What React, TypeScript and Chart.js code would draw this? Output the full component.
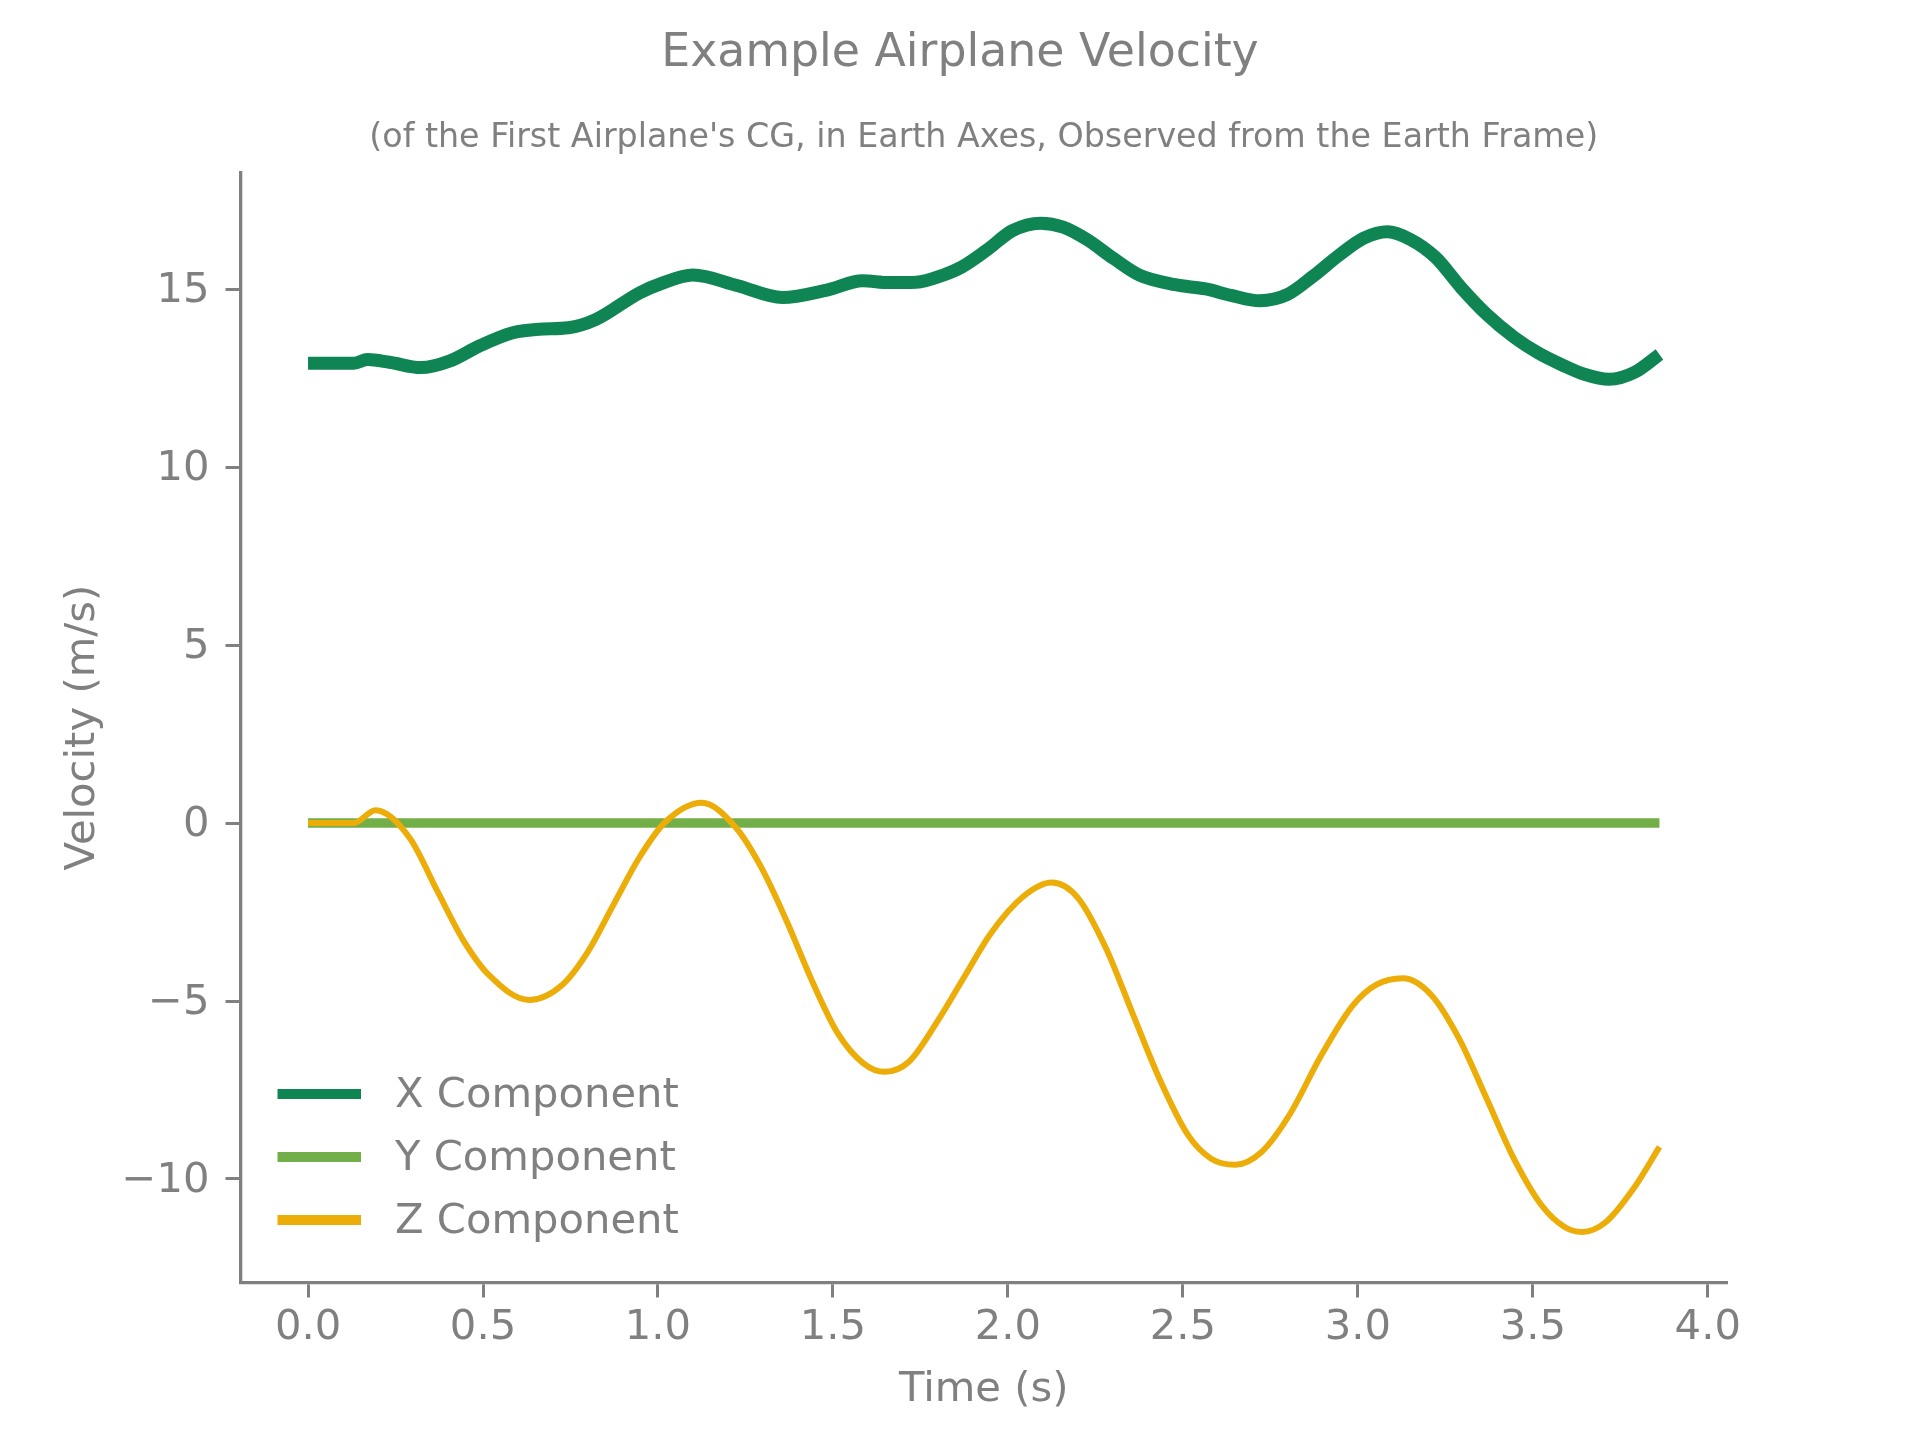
import React, { useEffect, useRef } from "react";
import { Chart, registerables } from "chart.js";

Chart.register(...registerables);

const FONT = "'DejaVu Sans', 'Noto Sans', sans-serif";
const GRAY = "#808080";

// Series styling
const seriesLabels = ["X Component", "Y Component", "Z Component"];
const seriesColors = ["#0F8554", "#73AF48", "#EDAD08"];
const seriesWidths = [13, 9.5, 6];

// X component of the CG velocity (m/s) against time (s)
const xCompTime = [
  0.0, 0.131, 0.17, 0.233, 0.322, 0.406, 0.488, 0.585, 0.66, 0.744, 0.82, 0.947,
  1.006, 1.1, 1.228, 1.355, 1.483, 1.585, 1.66, 1.738, 1.815, 1.867, 1.942, 2.013,
  2.093, 2.158, 2.226, 2.303, 2.376, 2.478, 2.565, 2.638, 2.72, 2.798, 2.871, 2.944,
  3.017, 3.085, 3.149, 3.222, 3.295, 3.368, 3.447, 3.514, 3.587, 3.645, 3.718, 3.791,
  3.862,
];
const xCompVel = [
  12.92, 12.92, 13.03, 12.95, 12.8, 12.99, 13.4, 13.78, 13.88, 13.92, 14.14, 14.9,
  15.15, 15.4, 15.1, 14.77, 14.98, 15.24, 15.19, 15.2, 15.4, 15.62, 16.12, 16.65,
  16.86, 16.75, 16.4, 15.86, 15.4, 15.13, 15.01, 14.83, 14.68, 14.85, 15.36, 15.94,
  16.44, 16.62, 16.41, 15.9, 15.05, 14.3, 13.65, 13.22, 12.86, 12.62, 12.47, 12.67,
  13.17,
];

// Y component stays at zero for the whole run
const yCompTime = [0.0, 3.862];
const yCompVel = [0, 0];

// Z component (m/s)
const zCompTime = [
  0.0, 0.13, 0.193, 0.29, 0.37, 0.443, 0.516, 0.632, 0.727, 0.8, 0.873, 0.946,
  1.019, 1.125, 1.223, 1.296, 1.368, 1.441, 1.514, 1.587, 1.648, 1.718, 1.798, 1.879,
  1.951, 2.043, 2.125, 2.2, 2.28, 2.358, 2.437, 2.515, 2.581, 2.649, 2.725, 2.804,
  2.896, 2.987, 3.053, 3.129, 3.21, 3.289, 3.368, 3.446, 3.525, 3.591, 3.641, 3.709,
  3.788, 3.862,
];
const zCompVel = [
  0, 0, 0.36, -0.41, -1.92, -3.28, -4.26, -4.97, -4.54, -3.61, -2.29, -0.98,
  0.01, 0.57, -0.13, -1.26, -2.76, -4.45, -5.91, -6.75, -6.99, -6.7, -5.58, -4.26,
  -3.1, -2.07, -1.67, -2.1, -3.51, -5.39, -7.27, -8.77, -9.43, -9.6, -9.24, -8.21,
  -6.52, -5.11, -4.54, -4.36, -4.83, -6.05, -7.74, -9.43, -10.74, -11.35, -11.49, -11.21,
  -10.27, -9.1,
];

// Axis ticks
const timeTicks = [0, 0.5, 1, 1.5, 2, 2.5, 3, 3.5, 4];
const timeTickLabels = ["0.0", "0.5", "1.0", "1.5", "2.0", "2.5", "3.0", "3.5", "4.0"];
const velTicks = [-10, -5, 0, 5, 10, 15];
const velTickLabels = ["\u221210", "\u22125", "0", "5", "10", "15"];

const toPoints = (t: number[], v: number[]) => t.map((x, i) => ({ x, y: v[i] }));

// Legend drawn inside the lower-left corner of the plot area
const insetLegend = {
  id: "insetLegend",
  afterDatasetsDraw(chart: any) {
    const { ctx } = chart;
    const { left, bottom } = chart.chartArea;
    ctx.save();
    ctx.font = `41.7px ${FONT}`;
    ctx.textBaseline = "middle";
    ctx.textAlign = "left";
    seriesLabels.forEach((label, i) => {
      const y = bottom - 186.5 + i * 63;
      ctx.strokeStyle = seriesColors[i];
      ctx.lineWidth = 10;
      ctx.lineCap = "butt";
      ctx.beginPath();
      ctx.moveTo(left + 37, y - 2);
      ctx.lineTo(left + 120.5, y - 2);
      ctx.stroke();
      ctx.fillStyle = GRAY;
      ctx.fillText(label, left + 154.5, y);
    });
    ctx.restore();
  },
};

const tickGrid = {
  display: true,
  drawOnChartArea: false,
  drawTicks: true,
  tickLength: 15,
  tickWidth: 3,
  tickColor: GRAY,
  color: GRAY,
};

export default function App() {
  const canvasRef = useRef<HTMLCanvasElement | null>(null);

  useEffect(() => {
    document.body.style.margin = "0";
    const canvas = canvasRef.current;
    if (!canvas) return;

    const series = [
      toPoints(xCompTime, xCompVel),
      toPoints(yCompTime, yCompVel),
      toPoints(zCompTime, zCompVel),
    ];

    const chart = new Chart(canvas, {
      type: "line",
      data: {
        datasets: series.map((data, i) => ({
          label: seriesLabels[i],
          data,
          xAxisID: "x",
          yAxisID: "y",
          borderColor: seriesColors[i],
          backgroundColor: seriesColors[i],
          borderWidth: seriesWidths[i],
          pointRadius: 0,
          pointHoverRadius: 0,
          fill: false,
          cubicInterpolationMode: "monotone" as const,
          borderCapStyle: "butt" as const,
          order: 2 - i,
        })),
      },
      options: {
        responsive: false,
        animation: false,
        events: [],
        layout: { padding: { left: 0, right: 0, top: 0, bottom: 0 } },
        plugins: {
          legend: { display: false },
          tooltip: { enabled: false },
          title: {
            display: true,
            text: "Example Airplane Velocity",
            color: GRAY,
            fullSize: true,
            font: { family: FONT, size: 45.8, weight: "normal" as const, lineHeight: 1.2 },
            padding: { top: 26.5, bottom: 0 },
          },
          subtitle: {
            display: true,
            text: "(of the First Airplane's CG, in Earth Axes, Observed from the Earth Frame)",
            color: GRAY,
            fullSize: false,
            font: { family: FONT, size: 33.3, weight: "normal" as const, lineHeight: 1.2 },
            padding: { top: 37.2, bottom: 14 },
          },
        },
        scales: {
          x: {
            type: "linear",
            min: -0.193,
            max: 4.055,
            afterBuildTicks: (scale: any) => {
              scale.ticks = timeTicks.map((value) => ({ value }));
            },
            afterFit: (scale: any) => {
              scale.height = 157.5;
            },
            ticks: {
              color: GRAY,
              font: { family: FONT, size: 41.7, lineHeight: 1.2 },
              padding: 6,
              maxRotation: 0,
              autoSkip: false,
              callback: (_v: any, index: number) => timeTickLabels[index],
            },
            grid: tickGrid,
            border: { display: true, color: GRAY, width: 3.3 },
            title: {
              display: true,
              text: "Time (s)",
              color: GRAY,
              font: { family: FONT, size: 41.7, lineHeight: 1.2 },
              padding: { top: 0, bottom: 25 },
            },
          },
          y: {
            type: "linear",
            position: "left",
            min: -12.91,
            max: 18.28,
            afterBuildTicks: (scale: any) => {
              scale.ticks = velTicks.map((value) => ({ value }));
            },
            afterFit: (scale: any) => {
              scale.width = 240.5;
            },
            ticks: {
              color: GRAY,
              font: { family: FONT, size: 41.7, lineHeight: 1.2 },
              padding: 16,
              labelOffset: 2,
              autoSkip: false,
              callback: (_v: any, index: number) => velTickLabels[index],
            },
            grid: tickGrid,
            border: { display: true, color: GRAY, width: 3.3 },
            title: {
              display: true,
              text: "Velocity (m/s)",
              color: GRAY,
              font: { family: FONT, size: 41.7, lineHeight: 1.2 },
              padding: { top: 58.5, bottom: 0 },
            },
          },
          // empty right-hand gutter that keeps the figure title centred on the page
          gutter: {
            type: "linear",
            axis: "y",
            position: "right",
            display: true,
            afterFit: (scale: any) => {
              scale.width = 193;
            },
            ticks: { display: false },
            grid: { display: false, drawTicks: false },
            border: { display: false },
          },
        },
      },
      plugins: [insetLegend],
    });

    return () => chart.destroy();
  }, []);

  return (
    <div style={{ width: 1920, height: 1440, background: "#ffffff" }}>
      <canvas ref={canvasRef} width={1920} height={1440} style={{ display: "block" }} />
    </div>
  );
}
